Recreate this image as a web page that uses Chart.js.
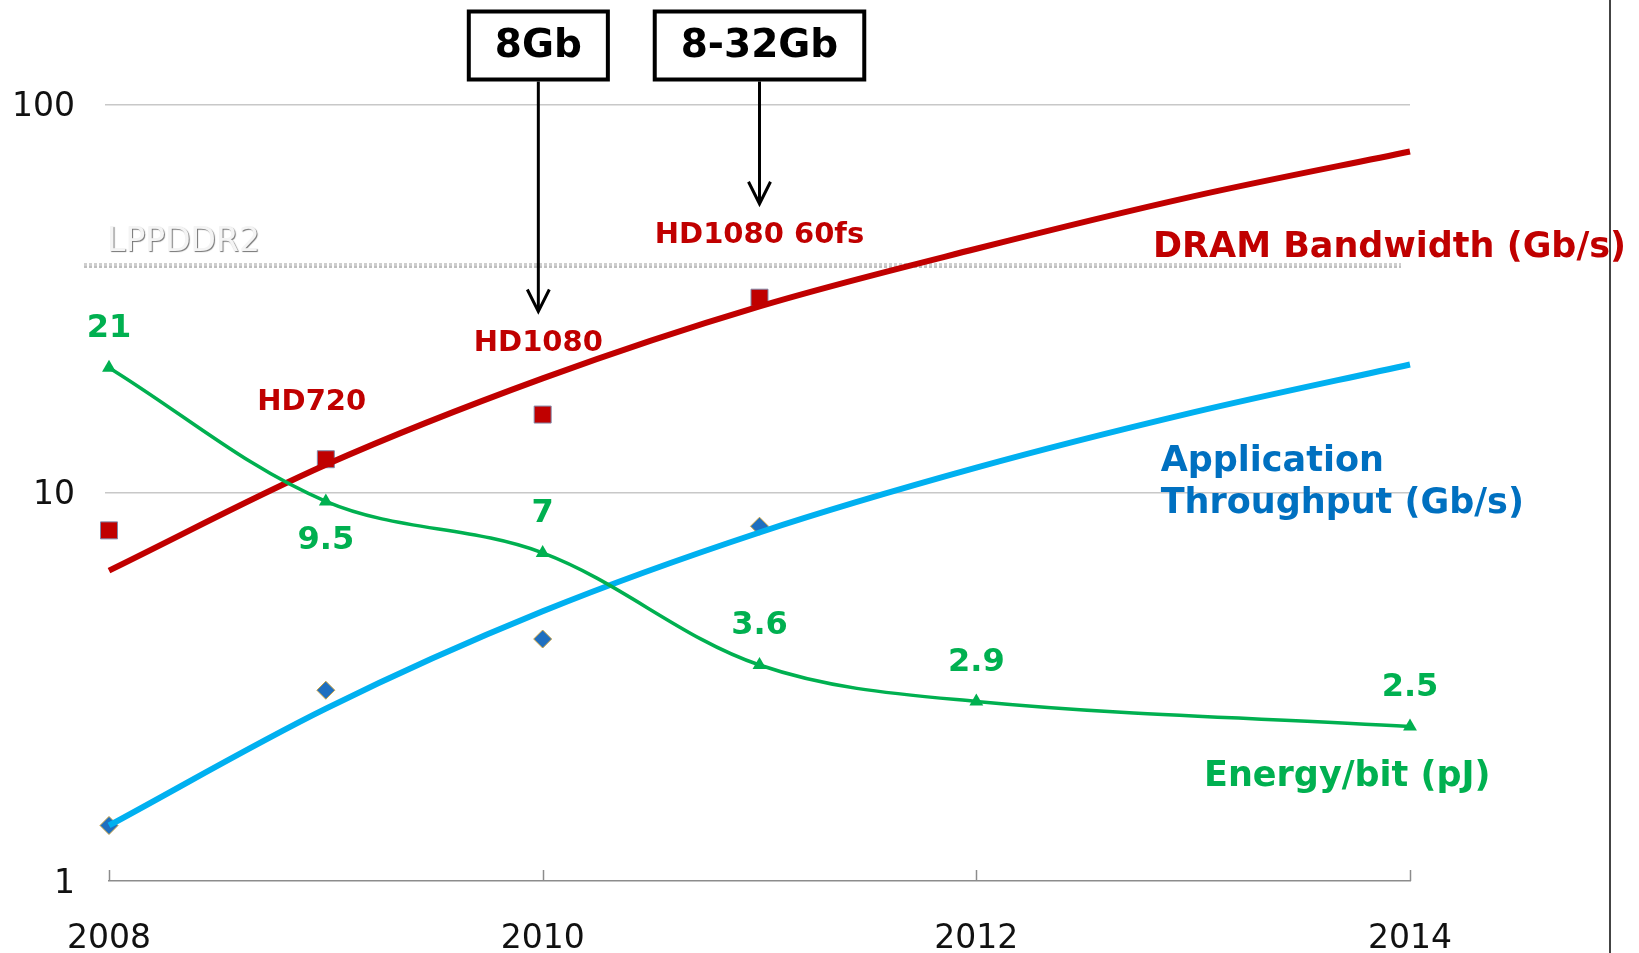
<!DOCTYPE html>
<html>
<head>
<meta charset="utf-8">
<script src="https://cdn.jsdelivr.net/npm/chart.js@4.4.1/dist/chart.umd.min.js"></script>
<style>
  html, body { margin: 0; padding: 0; background: #fff; }
  #wrap { width: 1639px; height: 953px; }
</style>
</head>
<body>
<div id="wrap"><canvas id="dramChart" width="1639" height="953"></canvas></div>
<script>
// ============================================
// DATA
// ============================================
const trendYears = [2008, 2009, 2010, 2011, 2012, 2013, 2014];
const dramTrend = [6.3, 11.8, 19.7, 30.2, 42.5, 58, 75.7];      // Gb/s, fitted curve
const appTrend = [1.39, 2.78, 4.95, 7.9, 11.6, 16.1, 21.4];     // Gb/s, fitted curve

const measuredYears = [2008, 2009, 2010, 2011];
const dramMeasured = [8.0, 12.2, 15.9, 31.8];
const appMeasured = [1.39, 3.1, 4.2, 8.2];

const energyYears = [2008, 2009, 2010, 2011, 2012, 2014];
const energyPerBit = [21, 9.5, 7, 3.6, 2.9, 2.5];                // pJ
const energyLabelSide = ['above', 'below', 'above', 'above', 'above', 'above'];

const xTickValues = [2008, 2010, 2012, 2014];
const yTickValues = [1, 10, 100];

const lpddr2Limit = 38.7;

const videoLabels = [
    { text: 'HD720', x: 2008.935, y: 17.1 },
    { text: 'HD1080', x: 2009.98, y: 24.3 },
    { text: 'HD1080 60fs', x: 2011.0, y: 46.1 }
];

const densityBoxes = [
    { text: '8Gb', x: 2009.98, tip: 29.3 },
    { text: '8-32Gb', x: 2011.0, tip: 55.5 }
];

const seriesNames = [
    { text: 'DRAM Bandwidth (Gb/s)', x: 2012.815, y: 42.7, color: '#C00000' },
    { text: 'Application', x: 2012.85, y: 12.0, color: '#0070C0' },
    { text: 'Throughput (Gb/s)', x: 2012.85, y: 9.36, color: '#0070C0' },
    { text: 'Energy/bit (pJ)', x: 2013.05, y: 1.85, color: '#00B050' }
];

const FONT = '"DejaVu Sans", Verdana, sans-serif';

function pairs(xs, ys) {
    return xs.map((x, i) => ({ x: x, y: ys[i] }));
}

// ============================================
// OVERLAY: limit line, labels, boxes, arrows
// ============================================
const overlayPlugin = {
    id: 'overlay',
    beforeDatasetsDraw(chart) {
        const { ctx, chartArea, scales: { x, y } } = chart;
        const ly = y.getPixelForValue(lpddr2Limit);

        ctx.save();
        ctx.strokeStyle = '#cfcfcf';
        ctx.lineWidth = 3;
        ctx.setLineDash([3, 2]);
        ctx.shadowColor = 'rgba(0,0,0,0.25)';
        ctx.shadowOffsetY = 2;
        ctx.beginPath();
        ctx.moveTo(chartArea.left - 25, ly);
        ctx.lineTo(chartArea.right - 9, ly);
        ctx.stroke();
        ctx.setLineDash([]);

        ctx.font = '33px ' + FONT;
        ctx.fillStyle = '#f4f4f4';
        ctx.textAlign = 'left';
        ctx.textBaseline = 'alphabetic';
        ctx.shadowColor = 'rgba(0,0,0,0.55)';
        ctx.shadowOffsetX = 1;
        ctx.shadowOffsetY = 1;
        ctx.shadowBlur = 1;
        ctx.fillText('LPPDDR2', chartArea.left - 2, ly - 14);
        ctx.restore();
    },
    afterDatasetsDraw(chart) {
        const { ctx, chartArea, scales: { x, y } } = chart;
        ctx.save();

        // small inward ticks on the x axis
        ctx.strokeStyle = '#8c8c8c';
        ctx.lineWidth = 1.5;
        xTickValues.forEach(v => {
            const px = Math.round(x.getPixelForValue(v)) + 0.5;
            ctx.beginPath();
            ctx.moveTo(px, chartArea.bottom - 11);
            ctx.lineTo(px, chartArea.bottom);
            ctx.stroke();
        });

        // energy values
        ctx.font = 'bold 32px ' + FONT;
        ctx.fillStyle = '#00B050';
        ctx.textAlign = 'center';
        ctx.textBaseline = 'middle';
        energyPerBit.forEach((v, i) => {
            const px = x.getPixelForValue(energyYears[i]);
            const py = y.getPixelForValue(v);
            const dy = energyLabelSide[i] === 'above' ? -39 : 39;
            ctx.fillText(String(v), px, py + dy);
        });

        // video format labels
        ctx.font = 'bold 29px ' + FONT;
        ctx.fillStyle = '#C00000';
        videoLabels.forEach(l => {
            ctx.fillText(l.text, x.getPixelForValue(l.x), y.getPixelForValue(l.y));
        });

        // series names
        ctx.font = 'bold 35px ' + FONT;
        ctx.textAlign = 'left';
        seriesNames.forEach(s => {
            ctx.fillStyle = s.color;
            ctx.fillText(s.text, x.getPixelForValue(s.x), y.getPixelForValue(s.y));
        });

        // density boxes with arrows
        densityBoxes.forEach(b => {
            const cx = x.getPixelForValue(b.x);
            ctx.font = 'bold 39px ' + FONT;
            const w = ctx.measureText(b.text).width + 52;
            const top = 11.5, h = 68;
            ctx.fillStyle = '#fff';
            ctx.fillRect(cx - w / 2, top, w, h);
            ctx.lineWidth = 4;
            ctx.strokeStyle = '#000';
            ctx.strokeRect(cx - w / 2, top, w, h);
            ctx.fillStyle = '#000';
            ctx.textAlign = 'center';
            ctx.textBaseline = 'middle';
            ctx.fillText(b.text, cx, top + h / 2 + 1);

            const tipY = y.getPixelForValue(b.tip);
            ctx.lineWidth = 3;
            ctx.beginPath();
            ctx.moveTo(cx, top + h + 2);
            ctx.lineTo(cx, tipY - 1);
            ctx.stroke();
            ctx.beginPath();
            ctx.moveTo(cx - 11, tipY - 22);
            ctx.lineTo(cx, tipY);
            ctx.lineTo(cx + 11, tipY - 22);
            ctx.stroke();
        });

        // right frame edge
        ctx.strokeStyle = '#444';
        ctx.lineWidth = 2;
        ctx.beginPath();
        ctx.moveTo(1610, 0);
        ctx.lineTo(1610, chart.height);
        ctx.stroke();

        ctx.restore();
    }
};

// ============================================
// CHART
// ============================================
const ctx = document.getElementById('dramChart').getContext('2d');

new Chart(ctx, {
    type: 'line',
    data: {
        datasets: [
            {
                label: 'Energy/bit (pJ)',
                data: pairs(energyYears, energyPerBit),
                borderColor: '#00B050',
                backgroundColor: '#00B050',
                borderWidth: 3.5,
                tension: 0.35,
                pointStyle: 'triangle',
                pointRadius: 8,
                pointBorderWidth: 0,
                clip: false,
                order: 1
            },
            {
                label: 'DRAM Bandwidth (Gb/s)',
                data: pairs(trendYears, dramTrend),
                borderColor: '#C00000',
                borderWidth: 6,
                cubicInterpolationMode: 'monotone',
                pointRadius: 0,
                clip: false,
                order: 2
            },
            {
                label: 'Application Throughput (Gb/s)',
                data: pairs(trendYears, appTrend),
                borderColor: '#00B0F0',
                borderWidth: 6,
                cubicInterpolationMode: 'monotone',
                pointRadius: 0,
                clip: false,
                order: 3
            },
            {
                label: 'DRAM measured',
                data: pairs(measuredYears, dramMeasured),
                showLine: false,
                pointStyle: 'rect',
                pointRadius: 12,
                backgroundColor: '#C00000',
                borderColor: '#8088a8',
                borderWidth: 1,
                clip: false,
                order: 4
            },
            {
                label: 'Application measured',
                data: pairs(measuredYears, appMeasured),
                showLine: false,
                pointStyle: 'rectRot',
                pointRadius: 9,
                backgroundColor: '#1F6FC0',
                borderColor: '#C8A040',
                borderWidth: 1,
                clip: false,
                order: 5
            }
        ]
    },
    options: {
        responsive: false,
        animation: false,
        devicePixelRatio: 1,
        layout: {
            padding: { top: 104.5, right: 229, bottom: 0, left: 0 }
        },
        plugins: {
            legend: { display: false },
            tooltip: { enabled: false }
        },
        scales: {
            x: {
                type: 'linear',
                min: 2008,
                max: 2014,
                afterFit: s => { s.height = 72; },
                afterBuildTicks: s => { s.ticks = xTickValues.map(v => ({ value: v })); },
                grid: { display: false },
                border: { display: true, color: '#8c8c8c', width: 1.5 },
                ticks: {
                    padding: 31,
                    color: '#111',
                    font: { family: FONT, size: 33 },
                    callback: v => String(v)
                }
            },
            y: {
                type: 'logarithmic',
                min: 1,
                max: 100,
                afterFit: s => { s.width = 109; },
                afterBuildTicks: s => { s.ticks = yTickValues.map(v => ({ value: v })); },
                grid: {
                    color: c => (c.tick && c.tick.value === 1 ? 'rgba(0,0,0,0)' : '#c8c8c8'),
                    lineWidth: 1.5,
                    tickLength: 4
                },
                border: { display: false },
                ticks: {
                    padding: 30,
                    labelOffset: 3,
                    color: '#111',
                    font: { family: FONT, size: 33 },
                    callback: v => String(v)
                }
            }
        }
    },
    plugins: [overlayPlugin]
});
</script>
</body>
</html>
